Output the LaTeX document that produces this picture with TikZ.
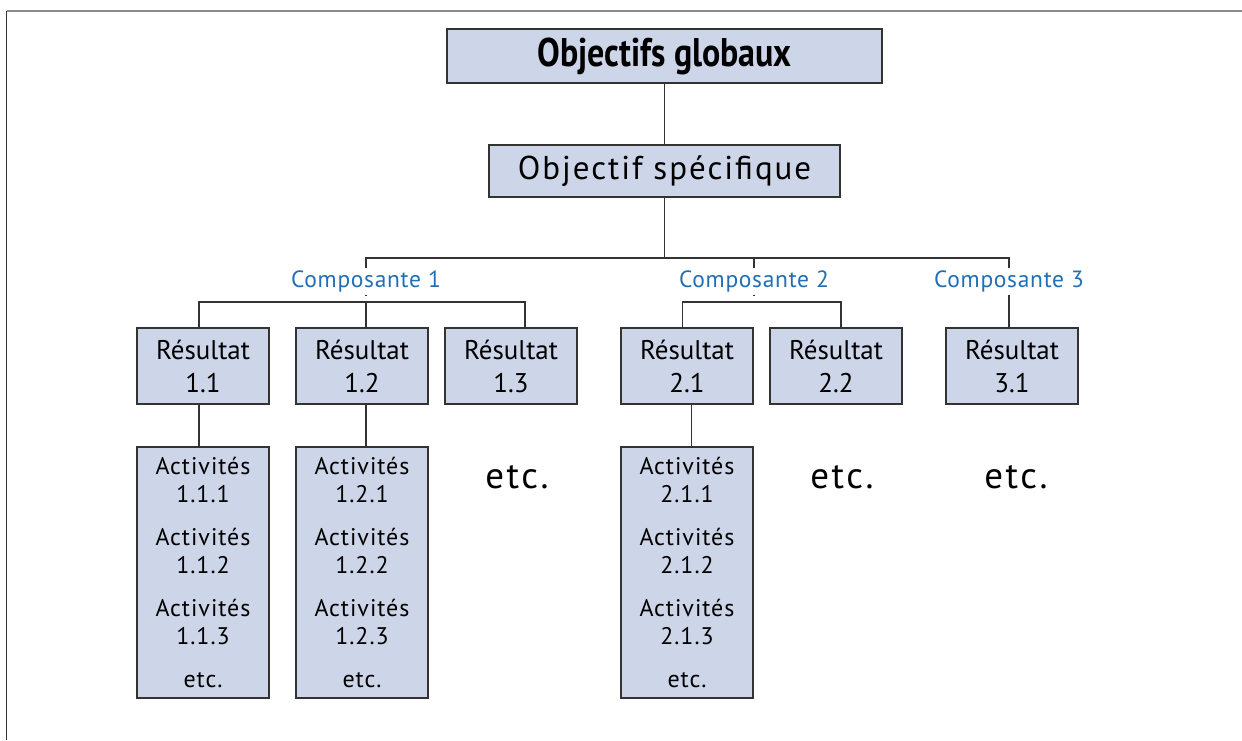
\documentclass[tikz,border=0pt]{standalone}
\usepackage{fontspec}
\setmainfont{PT Sans}
\newfontfamily\titlefont[FakeStretch=0.85]{PT Sans}
\usetikzlibrary{positioning}
\definecolor{colorbox} {RGB}{205,213,232}
\definecolor{colorcomp}{RGB}{33,110,180}
\definecolor{colorline}{RGB}{51,51,51}

\begin{document}
\begin{tikzpicture}[
    x=0.5pt, y=-0.5pt,
    box/.style={draw=colorline,line width=0.7pt,fill=colorbox,align=center,inner sep=0pt,outer sep=0pt},
    goal/.style={box,minimum width=217.5pt,minimum height=27pt,font={\fontsize{20}{24}\titlefont\bfseries}},
    purpose/.style={box,minimum width=175.5pt,minimum height=26pt,font={\fontsize{16.5}{19}\selectfont\addfontfeature{LetterSpace=6}}},
    result/.style={box,minimum width=66pt,minimum height=38pt,font={\fontsize{13.5}{16.5}\selectfont}},
    activity/.style={box,minimum width=66pt,minimum height=125.5pt,font={\fontsize{12}{13.85}\selectfont\addfontfeature{LetterSpace=4}}},
    component/.style={text=colorcomp,inner sep=1pt,anchor=base,font={\fontsize{11.75}{14}\selectfont\addfontfeature{LetterSpace=3}}},
    etcnote/.style={inner sep=0pt,anchor=base,font={\fontsize{18.5}{22}\selectfont\addfontfeature{LetterSpace=7}}},
    link/.style={draw=colorline,line width=0.6pt},
]
    \useasboundingbox (0,0) rectangle (1242,740);

    % Frame
    \draw[draw=gray!90,line width=1pt] (6.5,10.5) -- (1242,10.5);
    \draw[draw=colorline,line width=0.75pt] (6.5,10.5) -- (6.5,740);

    % Objectives
    \node[goal] (glob) at (664.5,56) {Objectifs globaux};
    \node[purpose, below=31pt of glob] (spec) {Objectif spécifique};

    % Components
    \node[component] (comp1) at (366,287.5) {Composante 1};
    \node[component] (comp2) at (754,287.5) {Composante 2};
    \node[component] (comp3) at (1009,287.5) {Composante 3};

    % Results
    \node[result] (r11) at (203,366) {Résultat\\1.1};
    \node[result, right=13.5pt of r11] (r12) {Résultat\\1.2};
    \node[result, right=8.5pt of r12] (r13) {Résultat\\1.3};
    \node[result, right=22pt of r13] (r21) {Résultat\\2.1};
    \node[result, right=8.5pt of r21] (r22) {Résultat\\2.2};
    \node[result, right=22pt of r22] (r31) {Résultat\\3.1};

    % Activities
    \node[activity, below=21.5pt of r11] (a11) {Activités\\1.1.1\\[7.65pt]Activités\\1.1.2\\[7.65pt]Activités\\1.1.3\\[7.65pt]etc.};
    \node[activity, below=21.5pt of r12] (a12) {Activités\\1.2.1\\[7.65pt]Activités\\1.2.2\\[7.65pt]Activités\\1.2.3\\[7.65pt]etc.};
    \node[activity, below=21.5pt of r21] (a21) {Activités\\2.1.1\\[7.65pt]Activités\\2.1.2\\[7.65pt]Activités\\2.1.3\\[7.65pt]etc.};

    \node[etcnote] (etc13) at (517,488) {etc.};
    \node[etcnote] (etc22) at (842,488) {etc.};
    \node[etcnote] (etc31) at (1016,488) {etc.};

    % Links
    \coordinate (row0) at (0,258);
    \draw[link] (glob) -- (spec);
    \draw[link] (spec) -- (spec |- row0);
    \draw[link] (comp1) |- (comp3 |- row0) -- (comp3);
    \draw[link] (comp2) -- (comp2 |- row0);

    \draw[link] (comp1) -- ++(0,15);
    \draw[link] ([xshift=-2pt]r11.north) -- ++(0,-26) -| ([xshift=7pt]r13.north);
    \draw[link] ([xshift=2pt]r12.north) -- ++(0,-26);
    \draw[link] (comp2) -- ++(0,15);
    \draw[link] ([xshift=-2.25pt]r21.north) -- ++(0,-26) -| ([xshift=2.5pt]r22.north);
    \draw[link] (comp3) -- (comp3 |- r31.north);

    \draw[link] ([xshift=-2pt]r11.south) -- ([xshift=-2pt]a11.north);
    \draw[link] ([xshift=2pt]r12.south) -- ([xshift=2pt]a12.north);
    \draw[link] ([xshift=2.25pt]r21.south) -- ([xshift=2.25pt]a21.north);
\end{tikzpicture}
\end{document}
